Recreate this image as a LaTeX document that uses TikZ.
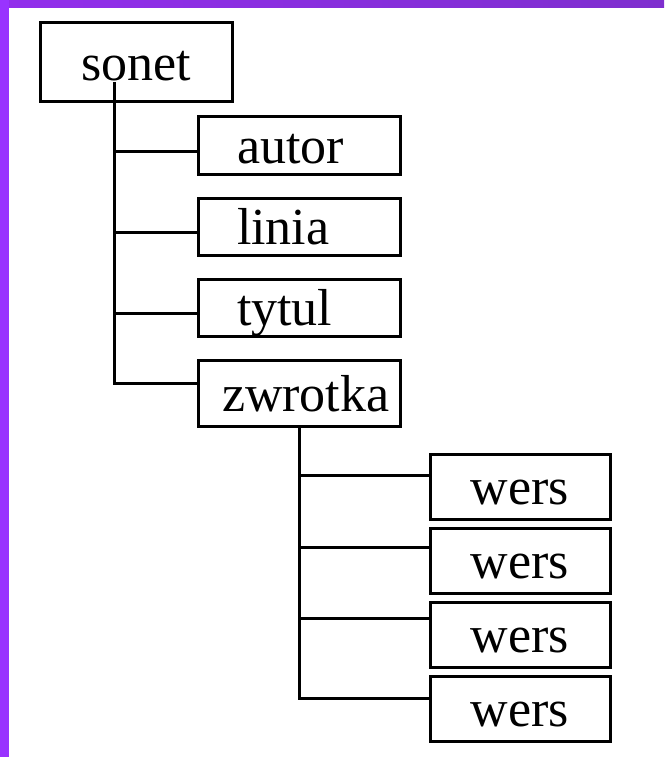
\documentclass[tikz,border=0pt]{standalone}
\usepackage{fontspec}
\setmainfont{Liberation Serif}
\usetikzlibrary{positioning}
\definecolor{frameLeft}{RGB}{153,51,255}
\definecolor{frameTopA}{RGB}{146,46,236}
\definecolor{frameTopB}{RGB}{126,46,206}

\begin{document}
\begin{tikzpicture}[
    x=1pt, y=-1pt,
    every node/.style={font=\fontsize{52}{60}\selectfont},
    node distance=24pt,
    box/.style={
        draw, line width=3pt, inner sep=0pt, outer sep=0pt,
        text height=40pt, text depth=4pt
    },
    root/.style={box, minimum width=192pt, minimum height=79pt},
    field/.style={box, minimum height=57pt, text width=124pt, inner xsep=39pt, align=left},
    verse/.style={box, minimum width=180pt, minimum height=65pt},
    link/.style={line width=3pt}
]
    \useasboundingbox (0,0) rectangle (664,757);
    \shade[left color=frameTopA, right color=frameTopB] (0,0) rectangle (664,8);
    \fill[frameLeft] (0,0) rectangle (9,757);

    \node[root] (sonet) at (136,62.5) {sonet};

    \node[field, anchor=north west] (autor) at (198,117) {autor};
    \node[field, below=of autor] (linia) {linia};
    \node[field, below=of linia] (tytul) {tytul};
    \node[field, below=of tytul, minimum height=66pt, text width=154pt, inner xsep=24pt] (zwrotka) {zwrotka};

    \node[verse, anchor=north west] (wers1) at (430,454) {wers};
    \node[verse, below=9pt of wers1] (wers2) {wers};
    \node[verse, below=9pt of wers2] (wers3) {wers};
    \node[verse, below=9pt of wers3] (wers4) {wers};

    \coordinate (root) at ([shift={(-22pt,-20pt)}]sonet.center);
    \coordinate (autor-in) at ([yshift=-6pt]autor.west);
    \coordinate (linia-in) at ([yshift=-6pt]linia.west);
    \coordinate (tytul-in) at ([yshift=-6pt]tytul.west);
    \coordinate (zwrotka-in) at ([yshift=10pt]zwrotka.west);
    \coordinate (wers1-in) at ([yshift=11pt]wers1.west);
    \coordinate (wers2-in) at ([yshift=13pt]wers2.west);
    \coordinate (wers3-in) at ([yshift=16pt]wers3.west);
    \coordinate (wers4-in) at ([yshift=10pt]wers4.west);

    \draw[link] (root) |- (zwrotka-in);
    \draw[link] (root |- autor-in) -- (autor-in);
    \draw[link] (root |- linia-in) -- (linia-in);
    \draw[link] (root |- tytul-in) -- (tytul-in);

    \draw[link] (zwrotka.south) |- (wers4-in);
    \draw[link] (zwrotka.south |- wers1-in) -- (wers1-in);
    \draw[link] (zwrotka.south |- wers2-in) -- (wers2-in);
    \draw[link] (zwrotka.south |- wers3-in) -- (wers3-in);
\end{tikzpicture}
\end{document}
